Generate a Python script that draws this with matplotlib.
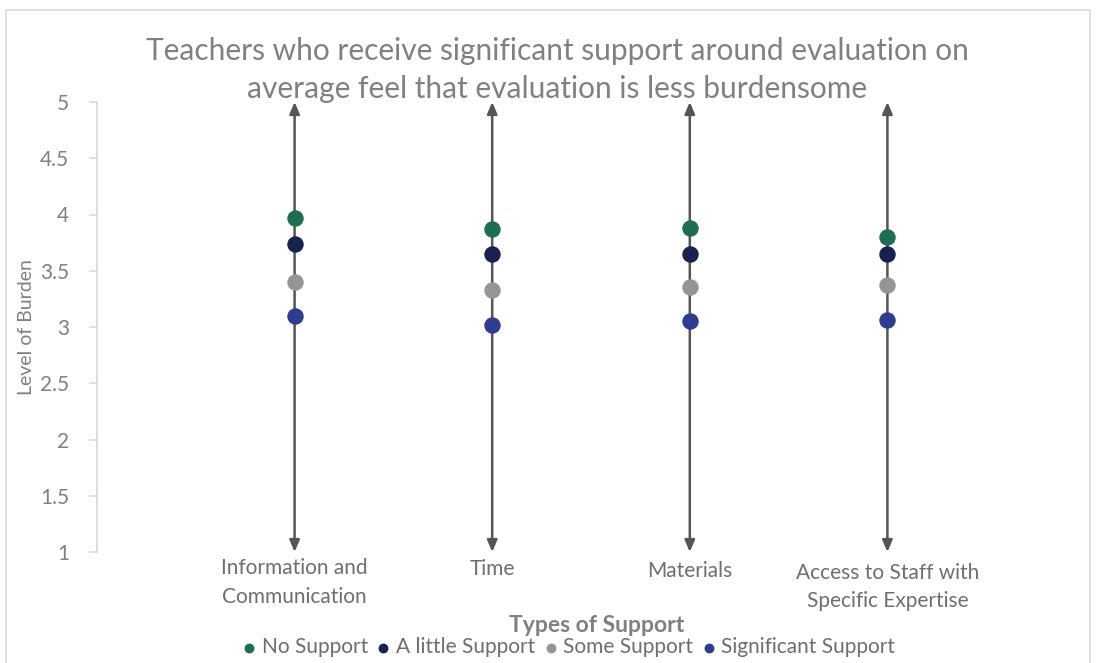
import matplotlib
matplotlib.use("Agg")
import matplotlib.pyplot as plt
from matplotlib.patches import Rectangle

categories = ["Information and\nCommunication", "Time", "Materials", "Access to Staff with\nSpecific Expertise"]
series_names = ["No Support", "A little Support", "Some Support", "Significant Support"]
no_support = [3.97, 3.87, 3.88, 3.80]
a_little_support = [3.74, 3.65, 3.65, 3.65]
some_support = [3.40, 3.33, 3.36, 3.37]
significant_support = [3.10, 3.02, 3.05, 3.06]
y_ticks = [1, 1.5, 2, 2.5, 3, 3.5, 4, 4.5, 5]
y_tick_labels = ["1", "1.5", "2", "2.5", "3", "3.5", "4", "4.5", "5"]

colors = ["#1e6e52", "#172250", "#939598", "#2c3d92"]
text_gray = "#808080"

plt.rcParams['font.family'] = ['Lato', 'DejaVu Sans']

fig = plt.figure(figsize=(10.96, 6.63), dpi=100)
fig.patches.append(Rectangle((6/1096, -0.1), (1090-6)/1096, 1.1 - 10/663,
                             transform=fig.transFigure, fill=False,
                             edgecolor="#d9d9d9", linewidth=1.2, zorder=0))

ax = fig.add_axes([97/1096, 1-552/663, (1085-97)/1096, (552-102)/663])
xs = [1, 2, 3, 4]
ax.set_xlim(0, 5)
ax.set_ylim(1, 5)

for x in xs:
    ax.annotate("", xy=(x, 5), xytext=(x, 1),
                arrowprops=dict(arrowstyle="<|-|>,head_length=0.7,head_width=0.3",
                                color="#555555", lw=1.8, shrinkA=0, shrinkB=0),
                zorder=2)

all_series = [no_support, a_little_support, some_support, significant_support]
for vals, name, c in zip(all_series, series_names, colors):
    ax.scatter(xs, vals, s=140, color=c, zorder=3, label=name, linewidths=0)

label_offsets = [-0.055, -0.065, -0.08, -0.095]
for x, cat, off in zip(xs, categories, label_offsets):
    ax.text(x, 1 + off, cat, ha="center", va="top", fontsize=15,
            color="#6d6e71", linespacing=1.55, clip_on=False)

for s in ["top", "right", "bottom"]:
    ax.spines[s].set_visible(False)
ax.spines["left"].set_color("#d9d9d9")
ax.spines["left"].set_linewidth(1.2)
ax.set_xticks([])
ax.set_yticks(y_ticks)
ax.set_yticklabels(y_tick_labels)
ax.tick_params(axis="y", colors="#d9d9d9", labelcolor=text_gray, labelsize=15,
               length=6, width=1.2, pad=14)

fig.text(27/1096, 1-327/663, "Level of Burden", rotation=90, ha="center", va="center",
         fontsize=14, color=text_gray)
fig.text(597/1096, 1-626/663, "Types of Support", ha="center", va="center",
         fontsize=16.5, fontweight="bold", color=text_gray)
fig.text(557/1096, 1-70/663,
         "Teachers who receive significant support around evaluation on\naverage feel that evaluation is less burdensome",
         ha="center", va="center", fontsize=21.5, color="#808080", linespacing=1.45)

handles, labels = ax.get_legend_handles_labels()
leg = fig.legend(handles, labels, loc="center", bbox_to_anchor=(566/1096, 1-647/663),
                 ncol=4, frameon=False, fontsize=15, handletextpad=0.0,
                 columnspacing=0.15, markerscale=0.6, labelcolor="#6d6e71",
                 borderpad=0, handlelength=1.2)

fig.savefig("out.png", dpi=100)
